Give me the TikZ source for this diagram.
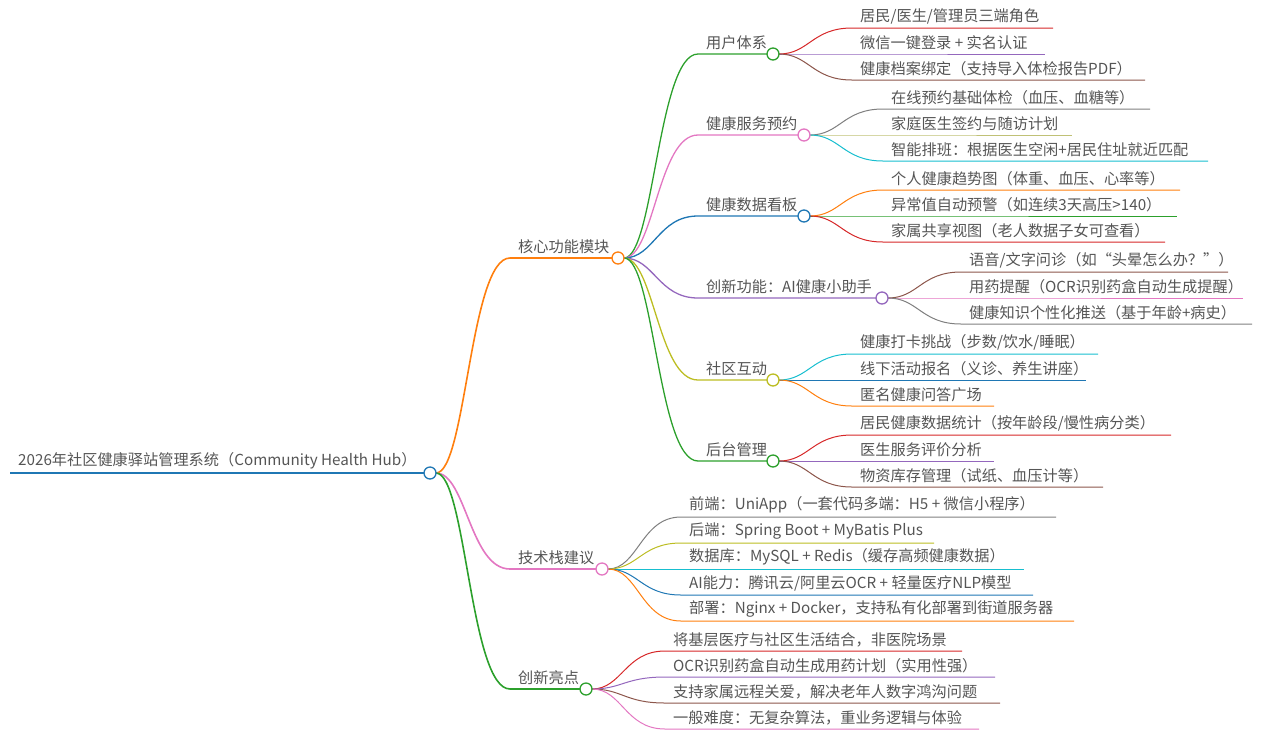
\documentclass[tikz,border=0pt]{standalone}
\usepackage{fontspec}
\setmainfont{Noto Sans CJK SC}[BoldFont={Noto Sans CJK SC}]
\definecolor{cRed}{HTML}{D62728}
\definecolor{cPur}{HTML}{9467BD}
\definecolor{cBro}{HTML}{8C564B}
\definecolor{cGra}{HTML}{7F7F7F}
\definecolor{cOli}{HTML}{BCBD22}
\definecolor{cCya}{HTML}{17BECF}
\definecolor{cOra}{HTML}{FF7F0E}
\definecolor{cGre}{HTML}{2CA02C}
\definecolor{cBlu}{HTML}{1F77B4}
\definecolor{cPin}{HTML}{E377C2}
\definecolor{txt}{HTML}{555555}
\tikzset{
 lbl/.style={anchor=south west,inner sep=0pt,text=txt,font=\fontsize{15.2}{17}\selectfont},
 knob/.style={circle,draw=#1,fill=white,line width=1.3pt,minimum size=12pt,inner sep=0pt},
}
% \mmitem{name}{parent}{x1}{y}{x2}{color}{width}{text}
\newcommand\mmitem[8]{%
 \coordinate (#1s) at (#3,#4);
 \coordinate (#1e) at (#5,#4);
 \draw[#6,line width=#7] (#2) .. controls +(30,0) and +(-40,0) .. (#1s) -- (#1e);
 \node[lbl] (#1t) at (#3+8,#4-4) {#8};
}
\begin{document}
\begin{tikzpicture}[x=1pt,y=-1pt]
\useasboundingbox (0,0) rectangle (1271,740);
% root
\coordinate (rs) at (10,473);
\draw[cBlu,line width=2.6pt] (rs) -- (424,473);
\node[lbl] (rt) at (18,469) {2026年社区健康驿站管理系统（Community Health Hub）};
\coordinate (R) at (436,473);
% level 1
\mmitem{A}{R}{510}{258}{612}{cOra}{1.6pt}{核心功能模块}
\mmitem{B}{R}{510}{569}{596}{cPin}{1.6pt}{技术栈建议}
\mmitem{C}{R}{510}{689}{580}{cGre}{1.6pt}{创新亮点}
\node[knob=cBlu] (Rk) at (430,473) {};
\coordinate (Ap) at (624,258);
\coordinate (Bp) at (608,569);
\coordinate (Cp) at (592,689);
% level 2
\mmitem{A1}{Ap}{698}{54}{767}{cGre}{1.3pt}{用户体系}
\mmitem{A2}{Ap}{698}{135}{798}{cPin}{1.3pt}{健康服务预约}
\mmitem{A3}{Ap}{698}{216}{798}{cBlu}{1.3pt}{健康数据看板}
\mmitem{A4}{Ap}{698}{298}{876}{cPur}{1.3pt}{创新功能：AI健康小助手}
\mmitem{A5}{Ap}{698}{380}{767}{cOli}{1.3pt}{社区互动}
\mmitem{A6}{Ap}{698}{461}{767}{cGre}{1.3pt}{后台管理}
\node[knob=cOra] (Ak) at (618,258) {};
\coordinate (A1p) at (779,54);
\coordinate (A2p) at (810,135);
\coordinate (A3p) at (810,216);
\coordinate (A4p) at (888,298);
\coordinate (A5p) at (779,380);
\coordinate (A6p) at (779,461);
% leaves
\mmitem{L11}{A1p}{852}{28}{1053}{cRed}{1pt}{居民/医生/管理员三端角色}
\mmitem{L12}{A1p}{852}{54}{1045}{cPur}{1pt}{微信一键登录 + 实名认证}
\mmitem{L13}{A1p}{852}{80}{1145}{cBro}{1pt}{健康档案绑定（支持导入体检报告PDF）}
\mmitem{L21}{A2p}{883}{109}{1150}{cGra}{1pt}{在线预约基础体检（血压、血糖等）}
\mmitem{L22}{A2p}{883}{135}{1072}{cOli!80!black!60!white}{1pt}{家庭医生签约与随访计划}
\mmitem{L23}{A2p}{883}{161}{1208}{cCya}{1pt}{智能排班：根据医生空闲+居民住址就近匹配}
\mmitem{L31}{A3p}{883}{190}{1180}{cOra}{1pt}{个人健康趋势图（体重、血压、心率等）}
\mmitem{L32}{A3p}{883}{216}{1177}{cGre}{1pt}{异常值自动预警（如连续3天高压>140）}
\mmitem{L33}{A3p}{883}{242}{1165}{cRed}{1pt}{家属共享视图（老人数据子女可查看）}
\mmitem{L41}{A4p}{961}{272}{1228}{cBro}{1pt}{语音/文字问诊（如“头晕怎么办？”）}
\mmitem{L42}{A4p}{961}{298}{1243}{cPin}{1pt}{用药提醒（OCR识别药盒自动生成提醒）}
\mmitem{L43}{A4p}{961}{324}{1252}{cGra}{1pt}{健康知识个性化推送（基于年龄+病史）}
\mmitem{L51}{A5p}{852}{354}{1098}{cCya}{1pt}{健康打卡挑战（步数/饮水/睡眠）}
\mmitem{L52}{A5p}{852}{380}{1086}{cBlu}{1pt}{线下活动报名（义诊、养生讲座）}
\mmitem{L53}{A5p}{852}{406}{994}{cOra}{1pt}{匿名健康问答广场}
\mmitem{L61}{A6p}{852}{435}{1171}{cRed}{1pt}{居民健康数据统计（按年龄段/慢性病分类）}
\mmitem{L62}{A6p}{852}{461}{994}{cPur}{1pt}{医生服务评价分析}
\mmitem{L63}{A6p}{852}{487}{1103}{cBro}{1pt}{物资库存管理（试纸、血压计等）}
\mmitem{L71}{Bp}{681}{517}{1056}{cGra}{1pt}{前端：UniApp（一套代码多端：H5 + 微信小程序）}
\mmitem{L72}{Bp}{681}{543}{934}{cOli}{1pt}{后端：Spring Boot + MyBatis Plus}
\mmitem{L73}{Bp}{681}{569}{1024}{cCya}{1pt}{数据库：MySQL + Redis（缓存高频健康数据）}
\mmitem{L74}{Bp}{681}{595}{1033}{cBlu}{1pt}{AI能力：腾讯云/阿里云OCR + 轻量医疗NLP模型}
\mmitem{L75}{Bp}{681}{621}{1074}{cOra}{1pt}{部署：Nginx + Docker，支持私有化部署到街道服务器}
\mmitem{L81}{Cp}{665}{651}{962}{cRed}{1pt}{将基层医疗与社区生活结合，非医院场景}
\mmitem{L82}{Cp}{665}{677}{995}{cPur}{1pt}{OCR识别药盒自动生成用药计划（实用性强）}
\mmitem{L83}{Cp}{665}{703}{1000}{cBro}{1pt}{支持家属远程关爱，解决老年人数字鸿沟问题}
\mmitem{L84}{Cp}{665}{729}{979}{cPin}{1pt}{一般难度：无复杂算法，重业务逻辑与体验}
% knobs on top
\node[knob=cPin] (Bk) at (602,569) {};
\node[knob=cGre] (Ck) at (586,689) {};
\node[knob=cGre] (A1k) at (773,54) {};
\node[knob=cPin] (A2k) at (804,135) {};
\node[knob=cBlu] (A3k) at (804,216) {};
\node[knob=cPur] (A4k) at (882,298) {};
\node[knob=cOli] (A5k) at (773,380) {};
\node[knob=cGre] (A6k) at (773,461) {};
\end{tikzpicture}
\end{document}
